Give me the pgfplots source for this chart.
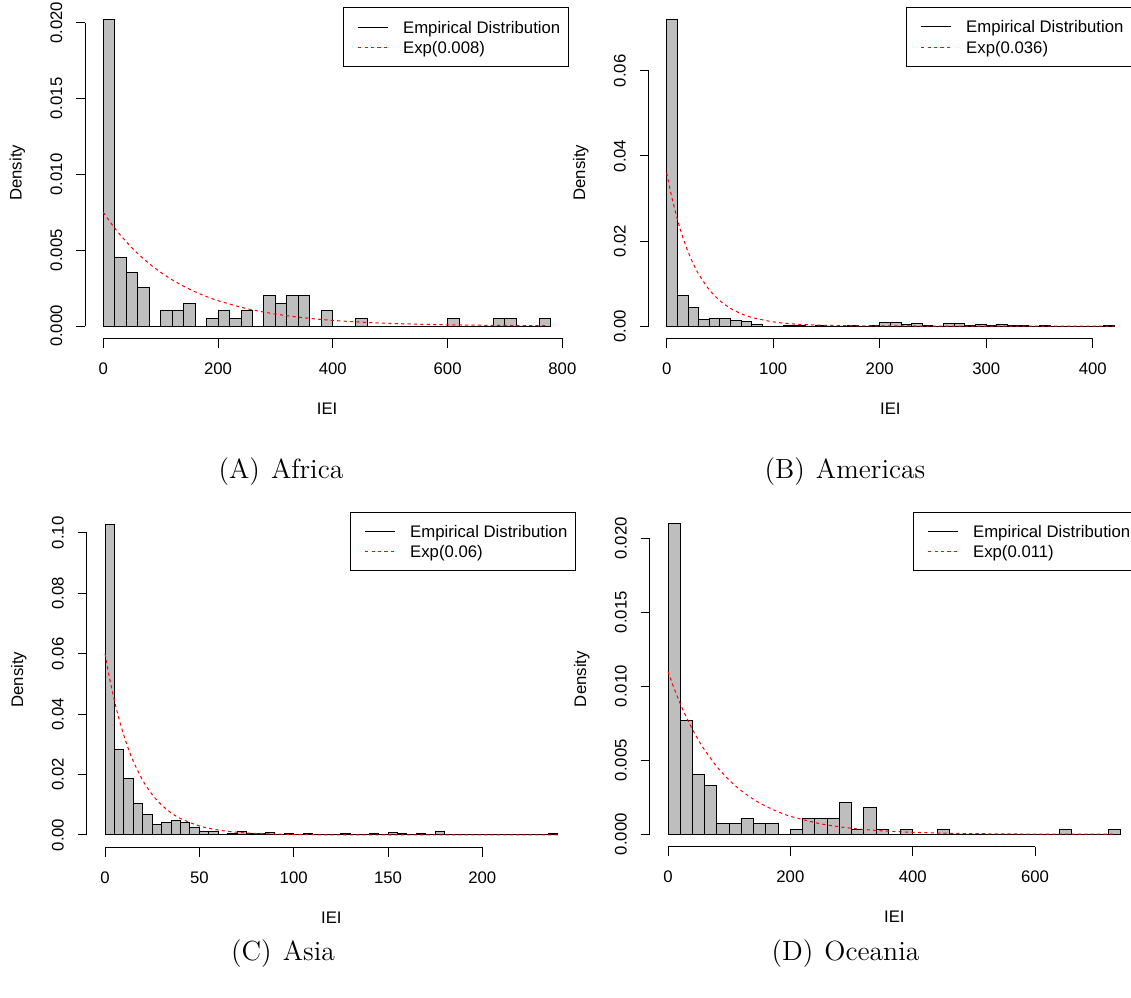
\documentclass[border=0pt]{standalone}
\usepackage{fontspec}
\usepackage{pgfplots}
\usepackage{pgfplotstable}
\pgfplotsset{compat=1.18}
\newfontfamily\rfont{Liberation Sans}
\definecolor{histgray}{RGB}{190,190,190}
\newcommand{\rsize}{\rfont\fontsize{8.4}{10}\selectfont}

% ---------- histogram densities (left bin edge, density) ----------
\pgfplotstableread{
x y
0 0.02020
20 0.004545
40 0.003535
60 0.002525
80 0
100 0.00101
120 0.00101
140 0.001515
160 0
180 0.000505
200 0.00101
220 0.000505
240 0.00101
260 0
280 0.00202
300 0.001515
320 0.00202
340 0.00202
360 0
380 0.00101
400 0
420 0
440 0.000505
460 0
480 0
500 0
520 0
540 0
560 0
580 0
600 0.000505
620 0
640 0
660 0
680 0.000505
700 0.000505
720 0
740 0
760 0.000505
780 0
}\histA

\pgfplotstableread{
x y
0 0.07220
10 0.00729
20 0.00442
30 0.00155
40 0.00177
50 0.00177
60 0.00133
70 0.00110
80 0.00044
90 0
100 0
110 0.00022
120 0.00022
130 0
140 0.00022
150 0
160 0
170 0.00022
180 0
190 0.00022
200 0.00088
210 0.00088
220 0.00044
230 0.00066
240 0.00022
250 0
260 0.00066
270 0.00066
280 0.00022
290 0.00044
300 0.00022
310 0.00044
320 0.00022
330 0.00022
340 0
350 0.00022
360 0
370 0
380 0
390 0
400 0
410 0.00022
420 0
}\histB

\pgfplotstableread{
x y
0 0.1029
5 0.0283
10 0.0186
15 0.0104
20 0.0067
25 0.0035
30 0.0040
35 0.0047
40 0.0040
45 0.0024
50 0.0012
55 0.0010
60 0
65 0.00033
70 0.0011
75 0.00033
80 0.00033
85 0.00066
90 0
95 0.00033
100 0
105 0.00033
110 0
115 0
120 0
125 0.00033
130 0
135 0
140 0.00033
145 0
150 0.00066
155 0.00033
160 0
165 0.00033
170 0
175 0.0010
180 0
185 0
190 0
195 0
200 0
205 0
210 0
215 0
220 0
225 0
230 0
235 0.00033
240 0
}\histC

\pgfplotstableread{
x y
0 0.02097
20 0.00770
40 0.00401
60 0.00329
80 0.00070
100 0.00070
120 0.00106
140 0.00070
160 0.00070
180 0
200 0.00035
220 0.00106
240 0.00106
260 0.00106
280 0.00216
300 0.00035
320 0.00180
340 0.00035
360 0
380 0.00035
400 0
420 0
440 0.00035
460 0
480 0
500 0
520 0
540 0
560 0
580 0
600 0
620 0
640 0.00035
660 0
680 0
700 0
720 0.00035
740 0
}\histD

% ---------- fitted exponential densities ----------
\pgfplotstableread{
x y
0 0.007500
10 0.006958
20 0.006455
30 0.005989
40 0.005556
50 0.005155
60 0.004782
80 0.004116
100 0.003543
120 0.003049
140 0.002625
160 0.002259
180 0.001944
200 0.001673
250 0.001150
300 0.000791
350 0.000543
400 0.000373
450 0.000257
500 0.000176
550 0.000121
600 0.000083
650 0.000057
700 0.000039
770 0.000023
}\expA

\pgfplotstableread{
x y
0 0.036000
2 0.033499
5 0.030070
10 0.025116
15 0.020979
20 0.017523
25 0.014637
30 0.012226
40 0.008530
50 0.005951
60 0.004152
70 0.002897
80 0.002021
100 0.000984
120 0.000479
140 0.000233
170 0.000079
200 0.000027
260 0.000003
420 0.000000
}\expB

\pgfplotstableread{
x y
0 0.060000
1 0.056506
2.5 0.051643
5 0.044449
7.5 0.038258
10 0.032929
12.5 0.028342
15 0.024394
20 0.018071
25 0.013388
30 0.009918
35 0.007348
40 0.005443
50 0.002987
60 0.001639
70 0.000900
80 0.000494
100 0.000149
120 0.000045
150 0.000007
240 0.000000
}\expC

\pgfplotstableread{
x y
0 0.011000
10 0.009854
20 0.008828
30 0.007908
40 0.007084
50 0.006346
60 0.005685
80 0.004563
100 0.003662
120 0.002939
140 0.002358
160 0.001892
180 0.001519
200 0.001219
250 0.000703
300 0.000406
350 0.000234
400 0.000135
450 0.000078
500 0.000045
600 0.000015
730 0.000004
}\expD

\pgfplotsset{
  rpanel/.style={
    scale only axis,
    axis x line*=bottom,
    axis y line*=left,
    axis line style={draw=none},
    clip=false,
    tick align=outside,
    major tick length=4.65bp,
    every tick/.style={black, line width=0.5bp},
    scaled ticks=false,
    tick label style={font=\rsize},
    /pgf/number format/assume math mode=true,
    xticklabel style={anchor=center},
    yticklabel style={rotate=90, anchor=center},
    xticklabel shift=10.45bp,
    yticklabel shift=9.85bp,
    xlabel={IEI}, ylabel={Density},
    label style={font=\rsize},
    xlabel style={at={([yshift=-35bp]axis description cs:0.5,0)}, anchor=center},
    ylabel style={at={([xshift=-34bp]axis description cs:0,0.5)}, anchor=center},
    legend cell align=left,
    legend style={
      at={(1,1)}, anchor=north east,
      draw=black, line width=0.5bp, fill=white,
      inner xsep=4bp, inner ysep=5.6bp, row sep=2.15bp,
      font=\rsize,
      nodes={inner sep=0pt, text height=7bp, text depth=1bp},
    },
    legend image code/.code={
      \draw[#1] (3.5bp,0bp) -- (18.5bp,0bp);
      \path[draw=none] (0bp,0bp) -- (26bp,0bp);
    },
  },
  histbars/.style={ybar interval, fill=histgray, draw=black, line width=0.5bp, forget plot},
  expcurve/.style={draw=red, line width=0.5bp, dash pattern=on 1.6bp off 1.6bp, smooth},
  emplegend/.style={draw=black, line width=0.5bp},
}

\begin{document}
\begin{tikzpicture}
\path[use as bounding box] (0bp,0bp) rectangle (565.5bp,-499bp);
\clip (0bp,0bp) rectangle (565.5bp,-499bp);

% (A) Africa
\begin{axis}[rpanel,
  at={(42.7bp,-169.15bp)}, anchor=south west,
  width=241.7bp, height=165.45bp,
  xmin=-31.2, xmax=811.2, ymin=-0.000808, ymax=0.021008,
  xtick={0,200,400,600,800},
  ytick={0,0.005,0.01,0.015,0.02},
  yticklabel style={/pgf/number format/.cd, fixed, fixed zerofill, precision=3},
]
\addlegendimage{emplegend}
\addlegendentry{Empirical Distribution}
\addplot[histbars] table {\histA};
\addplot[expcurve] table {\expA};
\addlegendentry{Exp(0.008)}
\draw[line width=0.5bp] (axis cs:0,-0.000808) -- (axis cs:800,-0.000808);
\draw[line width=0.5bp] (axis cs:-31.2,0) -- (axis cs:-31.2,0.02);
\end{axis}

% (B) Americas
\begin{axis}[rpanel,
  at={(324.4bp,-169.15bp)}, anchor=south west,
  width=241.55bp, height=165.65bp,
  xmin=-16.8, xmax=436.8, ymin=-0.002886, ymax=0.075046,
  xtick={0,100,200,300,400},
  ytick={0,0.02,0.04,0.06},
  yticklabel style={/pgf/number format/.cd, fixed, fixed zerofill, precision=2},
]
\addlegendimage{emplegend}
\addlegendentry{Empirical Distribution}
\addplot[histbars] table {\histB};
\addplot[expcurve] table {\expB};
\addlegendentry{Exp(0.036)}
\draw[line width=0.5bp] (axis cs:0,-0.002886) -- (axis cs:400,-0.002886);
\draw[line width=0.5bp] (axis cs:-16.8,0) -- (axis cs:-16.8,0.06);
\end{axis}

% (C) Asia
\begin{axis}[rpanel,
  at={(43.45bp,-423.7bp)}, anchor=south west,
  width=244.5bp, height=167.85bp,
  xmin=-9.6, xmax=249.6, ymin=-0.004116, ymax=0.107016,
  xtick={0,50,100,150,200},
  ytick={0,0.02,0.04,0.06,0.08,0.1},
  yticklabel style={/pgf/number format/.cd, fixed, fixed zerofill, precision=2},
]
\addlegendimage{emplegend}
\addlegendentry{Empirical Distribution}
\addplot[histbars] table {\histC};
\addplot[expcurve] table {\expC};
\addlegendentry{Exp(0.06)}
\draw[line width=0.5bp] (axis cs:0,-0.004116) -- (axis cs:200,-0.004116);
\draw[line width=0.5bp] (axis cs:-9.6,0) -- (axis cs:-9.6,0.1);
\end{axis}

% (D) Oceania
\begin{axis}[rpanel,
  at={(324.95bp,-423.35bp)}, anchor=south west,
  width=244.45bp, height=167.6bp,
  xmin=-29.6, xmax=769.6, ymin=-0.000839, ymax=0.021809,
  xtick={0,200,400,600},
  ytick={0,0.005,0.01,0.015,0.02},
  yticklabel style={/pgf/number format/.cd, fixed, fixed zerofill, precision=3},
]
\addlegendimage{emplegend}
\addlegendentry{Empirical Distribution}
\addplot[histbars] table {\histD};
\addplot[expcurve] table {\expD};
\addlegendentry{Exp(0.011)}
\draw[line width=0.5bp] (axis cs:0,-0.000839) -- (axis cs:600,-0.000839);
\draw[line width=0.5bp] (axis cs:-29.6,0) -- (axis cs:-29.6,0.02);
\end{axis}

% sub-figure captions
\begin{scope}[every node/.style={font=\fontsize{13.9}{16}\selectfont, inner sep=0pt}]
\node at (140.5bp,-236bp) {(A)\hspace{0.4em}Africa};
\node at (422.5bp,-236bp) {(B)\hspace{0.4em}Americas};
\node at (141.5bp,-477bp) {(C)\hspace{0.4em}Asia};
\node at (422.75bp,-477bp) {(D)\hspace{0.4em}Oceania};
\end{scope}
\end{tikzpicture}
\end{document}
